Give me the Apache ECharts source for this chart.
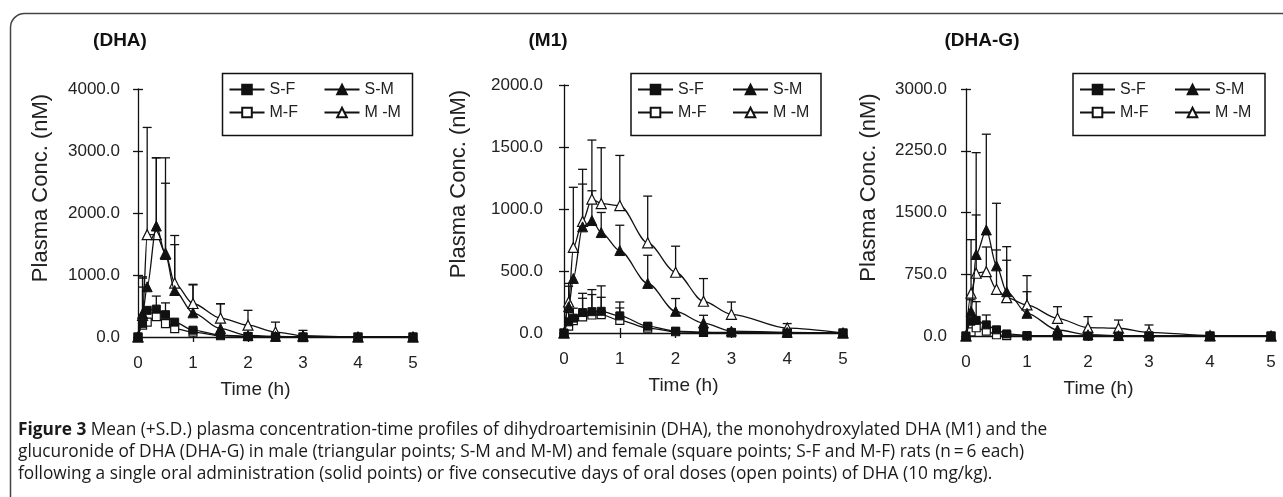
<!DOCTYPE html>
<html>
<head>
<meta charset="utf-8">
<script src="https://cdn.jsdelivr.net/npm/echarts@6/dist/echarts.min.js"></script>
<style>
html,body{margin:0;padding:0;background:#fff;}
#chart{width:1283px;height:497px;}
</style>
</head>
<body>
<div id="chart"></div>
<script>
// ---- data ----
const times = [0, 0.083, 0.167, 0.333, 0.5, 0.667, 1, 1.5, 2, 2.5, 3, 4, 5];
const xTicks = [0, 1, 2, 3, 4, 5];
const panelTitles = ['(DHA)', '(M1)', '(DHA-G)'];
const groupNames = ['S-F', 'M-F', 'S-M', 'M -M'];

// DHA
const dhaSF   = [0, 220, 430, 450, 360, 240, 110, 30, 10, 5, 0, 0, 0];
const dhaSFsd = [0, 0, 0, 210, 190, 0, 0, 0, 0, 0, 0, 0, 0];
const dhaMF   = [0, 190, 240, 330, 215, 135, 80, 20, 5, 0, 0, 0, 0];
const dhaMFsd = [0, 780, 0, 0, 0, 0, 0, 0, 0, 0, 0, 0, 0];
const dhaSM   = [0, 380, 810, 1790, 1330, 750, 390, 135, 25, 10, 5, 0, 0];
const dhaSMsd = [0, 425, 0, 1100, 1560, 740, 450, 400, 0, 0, 0, 0, 0];
const dhaMM   = [0, 350, 1650, 1650, 1350, 870, 540, 305, 190, 80, 20, 0, 0];
const dhaMMsd = [0, 600, 1730, 1240, 1130, 767, 310, 232, 240, 160, 87, 0, 0];

// M1
const m1SF   = [0, 90, 120, 165, 172, 175, 138, 55, 15, 5, 5, 0, 0];
const m1SFsd = [0, 0, 0, 155, 178, 205, 112, 25, 0, 0, 0, 0, 0];
const m1MF   = [0, 55, 100, 130, 145, 148, 102, 40, 10, 5, 0, 0, 0];
const m1MFsd = [0, 110, 100, 150, 165, 140, 100, 0, 0, 0, 0, 0, 0];
const m1SM   = [0, 212, 440, 856, 907, 810, 665, 400, 175, 80, 15, 5, 0];
const m1SMsd = [0, 165, 0, 345, 240, 162, 204, 227, 103, 63, 0, 0, 0];
const m1MM   = [0, 250, 690, 900, 1080, 1044, 1028, 727, 490, 256, 151, 40, 0];
const m1MMsd = [0, 150, 485, 420, 476, 450, 404, 377, 210, 183, 99, 36, 0];

// DHA-G
const gSF   = [0, 180, 190, 135, 75, 25, 5, 3, 0, 0, 0, 0, 0];
const gSFsd = [0, 0, 227, 120, 0, 0, 0, 0, 0, 0, 0, 0, 0];
const gMF   = [0, 50, 100, 60, 15, 5, 0, 0, 0, 0, 0, 0, 0];
const gMFsd = [0, 0, 0, 0, 0, 0, 0, 0, 0, 0, 0, 0, 0];
const gSM   = [0, 300, 990, 1288, 852, 538, 276, 73, 15, 5, 0, 0, 0];
const gSMsd = [0, 140, 1237, 1163, 760, 382, 262, 0, 0, 0, 0, 0, 0];
const gMM   = [0, 520, 762, 781, 567, 465, 377, 215, 101, 94, 45, 5, 0];
const gMMsd = [0, 650, 708, 300, 478, 620, 356, 141, 134, 100, 89, 0, 0];

const yMaxes = [4000, 2000, 3000];
const yIntervals = [1000, 500, 750];

const caption =
  '{b|Figure 3} Mean (+S.D.) plasma concentration-time profiles of dihydroartemisinin (DHA), the monohydroxylated DHA (M1) and the\n' +
  'glucuronide of DHA (DHA-G) in male (triangular points; S-M and M-M) and female (square points; S-F and M-F) rats (n\u2009=\u20096 each)\n' +
  'following a single oral administration (solid points) or five consecutive days of oral doses (open points) of DHA (10 mg/kg).';

// ---- layout (styles / positions) ----
const panels = [
  { means: [dhaSF, dhaMF, dhaSM, dhaMM], sds: [dhaSFsd, dhaMFsd, dhaSMsd, dhaMMsd] },
  { means: [m1SF, m1MF, m1SM, m1MM], sds: [m1SFsd, m1MFsd, m1SMsd, m1MMsd] },
  { means: [gSF, gMF, gSM, gMM], sds: [gSFsd, gMFsd, gSMsd, gMMsd] }
];
const grids = [
  { left: 138, top: 89, width: 275, height: 248 },
  { left: 564, top: 85, width: 279, height: 248 },
  { left: 966, top: 89, width: 305, height: 247 }
];
const yNameGap = [86, 94, 86];
const yLabelMargin = [18, 21, 19];
const titleX = [120, 548, 982];
const boxes = [
  { x: 222.5, y: 73.5, w: 190, h: 62 },
  { x: 631, y: 73.5, w: 190, h: 62 },
  { x: 1073, y: 73.5, w: 192, h: 62 }
];
const FONT = 'Liberation Sans, Arial, sans-serif';
const INK = '#111';

const symbols = [
  { symbol: 'rect', size: 8, filled: true },
  { symbol: 'rect', size: 8, filled: false },
  { symbol: 'triangle', size: 10, filled: true },
  { symbol: 'triangle', size: 10, filled: false }
];
// drawing order: open markers first, filled squares last (on top)
const drawOrder = [1, 3, 2, 0];

const xAxes = [], yAxes = [], series = [], legends = [], graphics = [];

grids.forEach((g, p) => {
  xAxes.push({
    type: 'value', gridIndex: p, min: 0, max: 5, interval: 1, position: 'bottom',
    axisLine: { show: true, onZero: false, lineStyle: { color: INK, width: 1.3 } },
    axisTick: { show: true, inside: false, length: 5, lineStyle: { color: INK, width: 1.3 } },
    axisLabel: { margin: 18, fontSize: 17, color: '#222', fontFamily: FONT },
    splitLine: { show: false },
    name: 'Time (h)', nameLocation: 'middle', nameGap: 43,
    nameTextStyle: { fontSize: 19, color: '#222', fontFamily: FONT, padding: [0, 40, 0, 0] }
  });
  xAxes.push({
    type: 'value', gridIndex: p, min: 0, max: 5, interval: 1, position: 'bottom',
    axisLine: { show: false },
    axisTick: { show: true, inside: true, length: 5, lineStyle: { color: INK, width: 1.3 } },
    axisLabel: { show: false }, splitLine: { show: false }
  });
  yAxes.push({
    type: 'value', gridIndex: p, min: 0, max: yMaxes[p], interval: yIntervals[p], position: 'left',
    axisLine: { show: true, onZero: false, lineStyle: { color: INK, width: 1.3 } },
    axisTick: { show: true, inside: false, length: 5, lineStyle: { color: INK, width: 1.3 } },
    axisLabel: { margin: yLabelMargin[p], fontSize: 17, color: '#222', fontFamily: FONT,
                 formatter: v => v.toFixed(1) },
    splitLine: { show: false },
    name: 'Plasma Conc. (nM)', nameLocation: 'middle', nameGap: yNameGap[p],
    nameTextStyle: { fontSize: 22, color: '#222', fontFamily: FONT, padding: [0, 0, 0, 50] }
  });
  yAxes.push({
    type: 'value', gridIndex: p, min: 0, max: yMaxes[p], interval: yIntervals[p], position: 'left',
    axisLine: { show: false },
    axisTick: { show: true, inside: true, length: 5, lineStyle: { color: INK, width: 1.3 } },
    axisLabel: { show: false }, splitLine: { show: false }
  });

  const pd = panels[p];
  drawOrder.forEach((k, order) => {
    const name = groupNames[k];
    const sym = symbols[k];
    series.push({
      type: 'custom', xAxisIndex: 2 * p, yAxisIndex: 2 * p, z: 2, silent: true,
      data: times.map((t, i) => [t, pd.means[k][i], pd.sds[k][i]]),
      encode: { x: 0, y: 1 },
      renderItem: function (params, api) {
        const sd = api.value(2);
        if (!sd) return null;
        const a = api.coord([api.value(0), api.value(1)]);
        const b = api.coord([api.value(0), api.value(1) + sd]);
        const st = { stroke: INK, lineWidth: 1.3 };
        return { type: 'group', children: [
          { type: 'line', shape: { x1: a[0], y1: a[1], x2: b[0], y2: b[1] }, style: st },
          { type: 'line', shape: { x1: b[0] - 4.5, y1: b[1], x2: b[0] + 4.5, y2: b[1] }, style: st }
        ]};
      }
    });
    series.push({
      type: 'line', name: name, xAxisIndex: 2 * p, yAxisIndex: 2 * p, z: 3 + order * 0.1,
      data: times.map((t, i) => [t, pd.means[k][i]]),
      symbol: sym.symbol, symbolSize: sym.size, showAllSymbol: true,
      smooth: 0.3, smoothMonotone: 'x',
      lineStyle: { color: INK, width: 1.3 },
      itemStyle: sym.filled ? { color: INK, borderColor: INK, borderWidth: 1 }
                            : { color: '#fff', borderColor: INK, borderWidth: 1.2 },
      emphasis: { disabled: true }
    });
  });

  const bx = boxes[p];
  graphics.push({
    type: 'rect', z: 10, silent: true,
    shape: { x: bx.x, y: bx.y, width: bx.w, height: bx.h },
    style: { fill: '#fff', stroke: INK, lineWidth: 1.5 }
  });
  [[groupNames[0], groupNames[1]], [groupNames[2], groupNames[3]]].forEach((col, c) => {
    legends.push({
      data: col, orient: 'vertical', left: bx.x + 6 + c * 95, top: bx.y + 8,
      itemWidth: 35, itemHeight: 12, itemGap: 7, padding: 0, selectedMode: false, z: 20,
      textStyle: { fontSize: 16, color: '#222', fontFamily: FONT }
    });
  });
  graphics.push({
    type: 'text', z: 10, x: titleX[p], y: 41,
    style: { text: panelTitles[p], align: 'center', verticalAlign: 'middle',
             font: 'bold 19px ' + FONT, fill: '#111' }
  });
});

graphics.unshift({
  type: 'rect', z: -1, silent: true,
  shape: { x: 10.5, y: 13.5, width: 1300, height: 520, r: 14 },
  style: { fill: 'none', stroke: '#444', lineWidth: 1.5 }
});
graphics.push({
  type: 'text', z: 10, x: 18, y: 419,
  style: {
    text: caption, fontFamily: 'Open Sans, sans-serif', fontSize: 17.3, lineHeight: 22,
    fill: '#1a1a1a',
    rich: { b: { fontWeight: 'bold', fontFamily: 'Open Sans, sans-serif', fontSize: 17.3, lineHeight: 22, fill: '#1a1a1a' } }
  }
});

const chart = echarts.init(document.getElementById('chart'), null, { renderer: 'canvas' });
chart.setOption({
  animation: false,
  backgroundColor: '#fff',
  grid: grids.map(g => Object.assign({ containLabel: false }, g)),
  xAxis: xAxes,
  yAxis: yAxes,
  legend: legends,
  series: series,
  graphic: graphics
});
</script>
</body>
</html>
